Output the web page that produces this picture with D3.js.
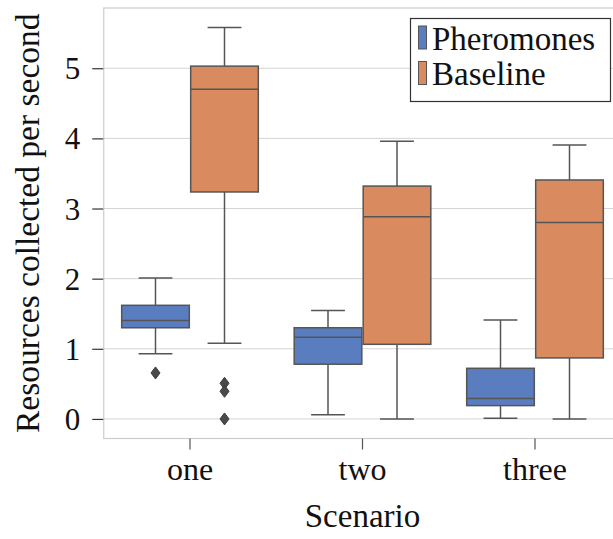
<!DOCTYPE html>
<html>
<head>
<meta charset="utf-8">
<script src="https://cdn.jsdelivr.net/npm/d3@7"></script>
<style>
  html, body { margin: 0; padding: 0; background: #fff; }
  svg { display: block; }
</style>
</head>
<body>
<svg id="chart" width="613" height="539"></svg>
<script>
// Scenarios on the x axis and the two strategies compared in each
const scenarios = ["one", "two", "three"];
const strategies = ["Pheromones", "Baseline"];
const yTicks = [0, 1, 2, 3, 4, 5];

// Five-number summaries [lower whisker, Q1, median, Q3, upper whisker]
const pheromoneStats = [
  [0.93, 1.30, 1.405, 1.62, 2.01],
  [0.06, 0.78, 1.163, 1.30, 1.545],
  [0.01, 0.19, 0.29, 0.722, 1.41]
];
const baselineStats = [
  [1.08, 3.236, 4.70, 5.03, 5.58],
  [0.0, 1.064, 2.884, 3.32, 3.96],
  [0.0, 0.87, 2.80, 3.407, 3.905]
];
// Points beyond the whiskers
const pheromoneOutliers = [[0.656], [], []];
const baselineOutliers = [[0.508, 0.394, 0.0], [], []];

const colors = { Pheromones: "#597dbf", Baseline: "#d98b5f" };
const lineColor = "#555555";
const serif = "'Liberation Serif', 'DejaVu Serif', serif";

const svg = d3.select("#chart");
const frame = { left: 103.75, right: 621.25, top: 8, bottom: 438.5 };

const x = d3.scaleBand().domain(scenarios).range([frame.left, frame.right]).padding(0);
const xHue = d3.scaleBand().domain(strategies)
  .range([0, x.bandwidth() * 0.8]).padding(0);
const y = d3.scaleLinear().domain([-0.279, 5.859]).range([frame.bottom, frame.top]);

// Gridlines
svg.append("g")
  .selectAll("line").data(yTicks).join("line")
  .attr("x1", frame.left).attr("x2", frame.right)
  .attr("y1", d => y(d)).attr("y2", d => y(d))
  .attr("stroke", "#d4d4d4").attr("stroke-width", 1);

// Light frame around the plotting area
svg.append("rect")
  .attr("x", frame.left).attr("y", frame.top)
  .attr("width", frame.right - frame.left).attr("height", frame.bottom - frame.top)
  .attr("fill", "none").attr("stroke", "#cccccc").attr("stroke-width", 1.2);

// Axes
const yAxis = d3.axisLeft(y).tickValues(yTicks).tickSize(11).tickPadding(12)
  .tickFormat(d3.format("d"));
const gy = svg.append("g").attr("transform", `translate(${frame.left - 0.5},0)`).call(yAxis);
gy.select(".domain").remove();
gy.selectAll(".tick line").attr("stroke", "#333").attr("stroke-width", 1.2);
gy.selectAll(".tick text").attr("font-size", 31).attr("dy", "0.34em").attr("fill", "#111");

const xAxis = d3.axisBottom(x).tickSize(11).tickPadding(8);
const gx = svg.append("g").attr("transform", `translate(0,${frame.bottom})`).call(xAxis);
gx.select(".domain").remove();
gx.selectAll(".tick line").attr("stroke", "#555").attr("stroke-width", 1.2);
gx.selectAll(".tick text").attr("font-size", 32).attr("fill", "#111");

// Axis titles
svg.append("text")
  .attr("x", 362.5).attr("y", 527)
  .attr("text-anchor", "middle").attr("font-size", 33)
  .text("Scenario");
svg.append("text")
  .attr("transform", `translate(39,${(frame.top + frame.bottom) / 2}) rotate(-90)`)
  .attr("text-anchor", "middle").attr("font-size", 33.5)
  .text("Resources collected per second");

// Boxes
const series = [
  { key: "Pheromones", stats: pheromoneStats, outliers: pheromoneOutliers },
  { key: "Baseline", stats: baselineStats, outliers: baselineOutliers }
];
const boxW = xHue.bandwidth() * 0.98;
const capW = boxW / 2;
const groupOffset = x.bandwidth() * 0.1;

series.forEach(s => {
  const g = svg.append("g");
  scenarios.forEach((sc, i) => {
    const [lo, q1, med, q3, hi] = s.stats[i];
    const cx = x(sc) + groupOffset + xHue(s.key) + xHue.bandwidth() / 2;
    const b = g.append("g");
    // whiskers
    b.append("line").attr("x1", cx).attr("x2", cx).attr("y1", y(q3)).attr("y2", y(hi))
      .attr("stroke", lineColor).attr("stroke-width", 1.5);
    b.append("line").attr("x1", cx).attr("x2", cx).attr("y1", y(q1)).attr("y2", y(lo))
      .attr("stroke", lineColor).attr("stroke-width", 1.5);
    // caps
    [lo, hi].forEach(v => {
      b.append("line").attr("x1", cx - capW / 2).attr("x2", cx + capW / 2)
        .attr("y1", y(v)).attr("y2", y(v))
        .attr("stroke", lineColor).attr("stroke-width", 1.5);
    });
    // box
    b.append("rect")
      .attr("x", cx - boxW / 2).attr("width", boxW)
      .attr("y", y(q3)).attr("height", y(q1) - y(q3))
      .attr("fill", colors[s.key]).attr("stroke", lineColor).attr("stroke-width", 1.5);
    // median
    b.append("line").attr("x1", cx - boxW / 2).attr("x2", cx + boxW / 2)
      .attr("y1", y(med)).attr("y2", y(med))
      .attr("stroke", lineColor).attr("stroke-width", 1.5);
    // outliers as thin diamonds
    b.selectAll("path.outlier").data(s.outliers[i]).join("path")
      .attr("class", "outlier")
      .attr("d", "M0,-6L4.5,0L0,6L-4.5,0Z")
      .attr("transform", d => `translate(${cx},${y(d)})`)
      .attr("fill", "#4a4a4a").attr("stroke", "#3a3a3a").attr("stroke-width", 1);
  });
});

// Legend
const legend = svg.append("g");
legend.append("rect")
  .attr("x", 410.5).attr("y", 18.5).attr("width", 200).attr("height", 83)
  .attr("fill", "#fff").attr("stroke", "#333").attr("stroke-width", 1.2);
strategies.forEach((k, i) => {
  const yy = 26 + i * 35.5;
  legend.append("rect")
    .attr("x", 418.5).attr("y", yy).attr("width", 8).attr("height", 23)
    .attr("fill", colors[k]).attr("stroke", lineColor).attr("stroke-width", 1);
  legend.append("text")
    .attr("x", 432).attr("y", yy + 23.5)
    .attr("font-size", 33)
    .text(k);
});

// One serif face for every label
svg.selectAll("g").attr("font-family", null);
svg.selectAll("text").style("font-family", serif).attr("fill", "#111");
</script>
</body>
</html>
